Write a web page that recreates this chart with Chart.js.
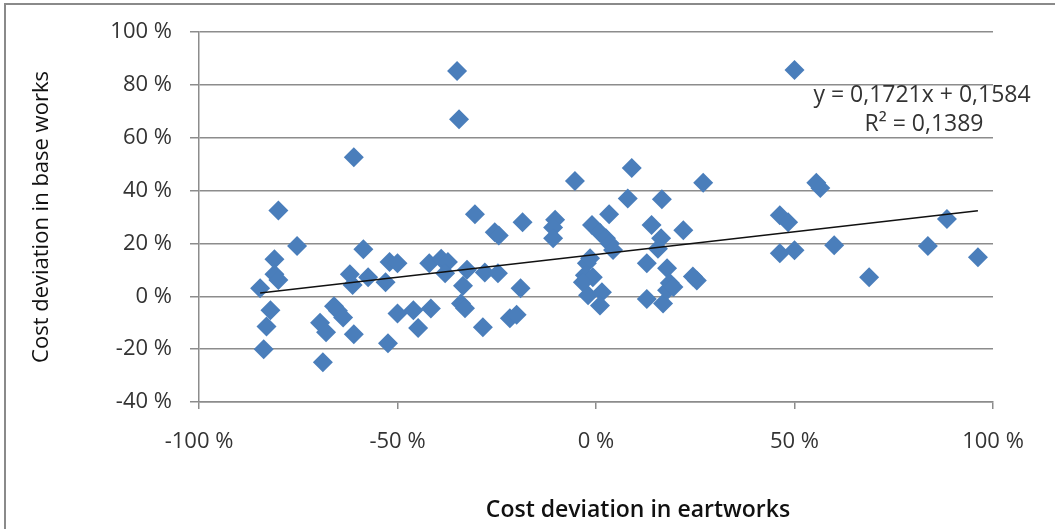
<!DOCTYPE html>
<html>
<head>
<meta charset="utf-8">
<script src="https://cdn.jsdelivr.net/npm/chart.js@4"></script>
<style>
  body { margin: 0; background: #fff; }
</style>
</head>
<body>
<canvas id="myChart" width="1055" height="529"></canvas>
<script>
// cost deviation in earthworks (x, %) and in base works (y, %)
const devEarthworks = [
    -84.6, -83, -83.7, -82, -81, -81, -80, -80, -75.3, -69.5,
    -68, -68.8, -66, -65, -63.7, -62, -61.3, -61, -61, -58.6,
    -57.4, -53, -52.4, -52, -50, -50, -46, -44.8, -41.6, -42,
    -39, -37.3, -38, -35, -34.5, -34, -33, -33.5, -32.5, -30.5,
    -28.5, -28, -25.5, -24.5, -24.7, -21.7, -20, -19, -18.5,
    -10.3, -10.8, -10.8, -5.3, -2.3, -1.5, -2.8, -0.8, -3.3, -2,
    1.5, 1, -1, 1, 2.5, 3.5, 4.3, 3.3, 8, 9,
    12.8, 12.8, 14, 16.4, 15.6, 16.6, 17.9, 16.9, 18.6, 17.9,
    19.5, 22, 25.4, 24.4, 27,
    46.3, 48.4, 46.3, 50, 50, 55.5, 56.5, 60, 68.8, 83.6, 88.4, 96.2
];
const devBaseWorks = [
    3, -11.4, -20, -5.3, 14, 8.3, 6.2, 32.5, 19, -10,
    -13.6, -25, -3.8, -5.5, -8, 8.3, 4.3, 52.6, -14.4, 17.8,
    7.2, 5.3, -17.8, 13, 12.5, -6.5, -5.3, -12, -4.6, 12.5,
    14.2, 13, 8.7, 85.2, 67, -2.7, -4.5, 4, 10, 31,
    -11.7, 9, 24.2, 23, 8.7, -8.3, -7, 3, 28,
    29, 26, 22, 43.6, 12.5, 14.4, 8, 7.2, 5.3, 0.4,
    1.5, -3.5, 27, 24, 22, 20, 17.5, 31, 37, 48.5,
    12.5, -1, 27, 22, 18, 36.7, 10.6, -2.7, 5, 2.3,
    3.5, 25, 6, 7.5, 43,
    30.7, 28, 16.3, 17.4, 85.6, 43, 41, 19.3, 7.2, 19, 29.2, 14.8
];

// linear trend line from the reference (fractions)
const trendSlope = 0.1721;
const trendIntercept = 0.1584;
const trendText = ['y = 0,1721x + 0,1584', 'R\u00b2 = 0,1389'];

const xTitle = 'Cost deviation in eartworks';
const yTitle = 'Cost deviation in base works';

const points = devEarthworks.map((x, i) => ({ x: x, y: devBaseWorks[i] }));
const xMin = Math.min(...devEarthworks);
const xMax = Math.max(...devEarthworks);
const trendPoints = [xMin, xMax].map(x => ({ x: x, y: (trendSlope * x / 100 + trendIntercept) * 100 }));

const blue = '#4A7EBB';
const gridColor = '#8c8c8c';
const tickFont = { family: 'Open Sans', size: 22 };

const extras = {
    id: 'extras',
    beforeDraw(chart) {
        const c = chart.ctx;
        c.save();
        c.fillStyle = '#fff';
        c.fillRect(0, 0, chart.width, chart.height);
        c.strokeStyle = '#8a8a8a';
        c.lineWidth = 2;
        c.beginPath();
        c.moveTo(5, chart.height);
        c.lineTo(5, 4);
        c.lineTo(chart.width, 4);
        c.stroke();
        c.restore();
    },
    afterDraw(chart) {
        const c = chart.ctx;
        const a = chart.chartArea;
        c.save();
        c.fillStyle = '#333';
        c.font = '23px "Open Sans"';
        c.textAlign = 'center';
        c.textBaseline = 'middle';
        c.fillText(trendText[0], a.right - 71, a.top + 63);
        c.fillText(trendText[1], a.right - 69, a.top + 92);

        c.fillStyle = '#111';
        c.font = '600 23px "Open Sans"';
        c.fillText(xTitle, (a.left + a.right) / 2 + 42, 510);

        c.font = '22px "Open Sans"';
        c.translate(42, (a.top + a.bottom) / 2);
        c.rotate(-Math.PI / 2);
        c.fillText(yTitle, 0, 0);
        c.restore();
    }
};

const ctx = document.getElementById('myChart').getContext('2d');
const myChart = new Chart(ctx, {
    type: 'scatter',
    data: {
        datasets: [{
            data: points,
            pointStyle: 'rectRot',
            pointRadius: 10,
            pointHoverRadius: 10,
            backgroundColor: blue,
            borderColor: blue,
            borderWidth: 0,
            order: 2
        }, {
            data: trendPoints,
            showLine: true,
            pointRadius: 0,
            borderColor: '#111',
            borderWidth: 1.5,
            order: 1
        }]
    },
    options: {
        responsive: false,
        animation: false,
        events: [],
        layout: { padding: { top: 32, right: 62, left: 0, bottom: 0 } },
        plugins: {
            legend: { display: false },
            tooltip: { enabled: false }
        },
        scales: {
            x: {
                type: 'linear',
                min: -100,
                max: 100,
                afterFit(scale) { scale.height = 127; },
                border: { color: gridColor, width: 1.5 },
                grid: { drawOnChartArea: false, drawTicks: true, tickLength: 7, color: gridColor, lineWidth: 1.5 },
                ticks: {
                    stepSize: 50,
                    padding: 20,
                    color: '#333',
                    font: tickFont,
                    maxRotation: 0,
                    callback: v => v + ' %'
                }
            },
            y: {
                min: -40,
                max: 100,
                afterFit(scale) { scale.width = 199; },
                border: { color: gridColor, width: 1.5 },
                grid: { color: gridColor, lineWidth: 1.5, tickLength: 9 },
                ticks: {
                    stepSize: 20,
                    padding: 18,
                    color: '#333',
                    font: tickFont,
                    callback: v => v + ' %'
                }
            }
        }
    },
    plugins: [extras]
});
</script>
</body>
</html>
